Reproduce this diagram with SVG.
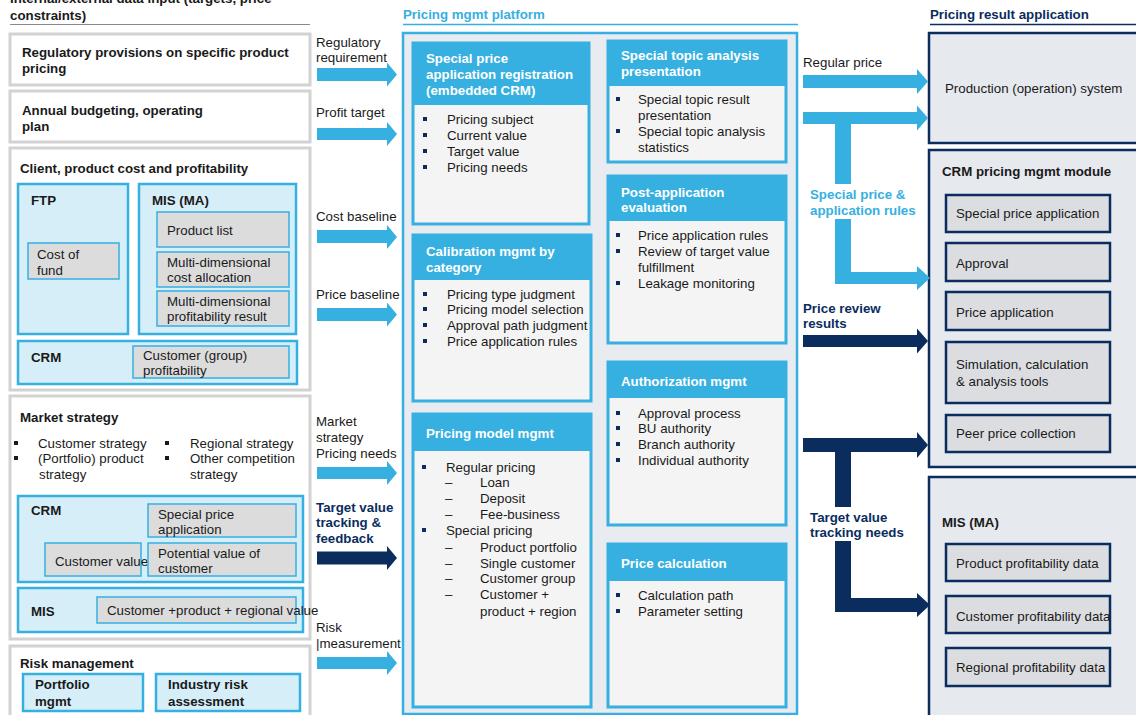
<svg xmlns="http://www.w3.org/2000/svg" width="1136" height="715" viewBox="0 0 1136 715">
<style>
.t{font-family:"Liberation Sans",Arial,sans-serif;font-size:13.3px;fill:#1a1a1a}
.b{font-weight:bold}
.w{fill:#fff}
.lbt{fill:#36b0e0}
.nvt{fill:#0b2d5e}
.gbox{fill:#fff;stroke:#d2d2d2;stroke-width:3}
.bbox{fill:#d6eef8;stroke:#36b0e0;stroke-width:2.5}
.gin{fill:#dcdcdc;stroke:#36b0e0;stroke-width:1.5}
.panel{fill:#f4f4f4;stroke:#36b0e0;stroke-width:3}
.hdr{fill:#36b0e0}
.rbox{fill:#e6e9ee;stroke:#0b2d5e;stroke-width:2.5}
.rin{fill:#dcdde0;stroke:#0b2d5e;stroke-width:2.5}
.bl{fill:#0b2d5e}
.bk{fill:#1a1a1a}
.alb{fill:#36b0e0}
.anv{fill:#0b2d5e}
</style>
<rect width="1136" height="715" fill="#fff"/>

<!-- Section titles -->
<g id="title-input">
<text class="t b" x="10" y="3">Internal/external data input (targets, price</text>
<text class="t b" x="10" y="20">constraints)</text>
<line x1="10" y1="24.5" x2="310" y2="24.5" stroke="#8a8a8a" stroke-width="1"/>
</g>
<g id="title-platform">
<text class="t b lbt" x="403" y="19">Pricing mgmt platform</text>
<line x1="403" y1="24.5" x2="798" y2="24.5" stroke="#36b0e0" stroke-width="1.5"/>
</g>
<g id="title-result">
<text class="t b nvt" x="930" y="19">Pricing result application</text>
<line x1="930" y1="24.5" x2="1136" y2="24.5" stroke="#0b2d5e" stroke-width="1.5"/>
</g>

<!-- Left column -->
<g id="reg-provisions">
<rect class="gbox" x="10" y="34" width="300" height="51"/>
<text class="t b" x="22" y="57">Regulatory provisions on specific product</text>
<text class="t b" x="22" y="73">pricing</text>
</g>
<g id="annual-budget">
<rect class="gbox" x="10" y="91" width="300" height="51"/>
<text class="t b" x="22" y="115">Annual budgeting, operating</text>
<text class="t b" x="22" y="131">plan</text>
</g>
<g id="client-cost">
<rect class="gbox" x="10" y="148" width="300" height="242"/>
<text class="t b" x="20" y="173">Client, product cost and profitability</text>
<g id="ftp">
<rect class="bbox" x="18" y="184" width="110" height="150"/>
<text class="t b" x="31" y="205">FTP</text>
<rect class="gin" x="28" y="243" width="91" height="36"/>
<text class="t" x="37" y="259">Cost of</text>
<text class="t" x="37" y="275">fund</text>
</g>
<g id="mis-ma-left">
<rect class="bbox" x="139" y="184" width="157" height="150"/>
<text class="t b" x="152" y="205">MIS (MA)</text>
<rect class="gin" x="157" y="212" width="132" height="35"/>
<text class="t" x="167" y="235">Product list</text>
<rect class="gin" x="157" y="252" width="132" height="35"/>
<text class="t" x="167" y="267">Multi-dimensional</text>
<text class="t" x="167" y="282">cost allocation</text>
<rect class="gin" x="157" y="291" width="132" height="35"/>
<text class="t" x="167" y="306">Multi-dimensional</text>
<text class="t" x="167" y="321">profitability result</text>
</g>
<g id="crm-cost">
<rect class="bbox" x="18" y="341" width="279" height="43"/>
<text class="t b" x="31" y="362">CRM</text>
<rect class="gin" x="133" y="346" width="156" height="32"/>
<text class="t" x="143" y="360">Customer (group)</text>
<text class="t" x="143" y="375">profitability</text>
</g>
</g>
<g id="market-strategy">
<rect class="gbox" x="10" y="396" width="300" height="243"/>
<text class="t b" x="20" y="422">Market strategy</text>
<rect class="bk" x="14" y="441" width="4" height="4"/>
<rect class="bk" x="14" y="456" width="4" height="4"/>
<text class="t" x="38" y="448">Customer strategy</text>
<text class="t" x="38" y="463">(Portfolio) product</text>
<text class="t" x="39" y="479">strategy</text>
<rect class="bk" x="165" y="441" width="4" height="4"/>
<rect class="bk" x="165" y="456" width="4" height="4"/>
<text class="t" x="190" y="448">Regional strategy</text>
<text class="t" x="190" y="463">Other competition</text>
<text class="t" x="190" y="479">strategy</text>
<g id="crm-market">
<rect class="bbox" x="18" y="496" width="285" height="86"/>
<text class="t b" x="31" y="515">CRM</text>
<rect class="gin" x="148" y="504" width="148" height="33"/>
<text class="t" x="158" y="519">Special price</text>
<text class="t" x="158" y="534">application</text>
<rect class="gin" x="45" y="543" width="96" height="33"/>
<text class="t" x="55" y="566">Customer value</text>
<rect class="gin" x="148" y="543" width="148" height="33"/>
<text class="t" x="158" y="558">Potential value of</text>
<text class="t" x="158" y="573">customer</text>
</g>
<g id="mis-market">
<rect class="bbox" x="18" y="588" width="285" height="44"/>
<text class="t b" x="31" y="616">MIS</text>
<rect class="gin" x="97" y="597" width="199" height="26"/>
<text class="t" x="107" y="615">Customer +product + regional value</text>
</g>
</g>
<g id="risk-mgmt">
<rect class="gbox" x="10" y="646" width="300" height="75"/>
<text class="t b" x="20" y="668">Risk management</text>
<rect class="bbox" x="23" y="674" width="120" height="37"/>
<text class="t b" x="35" y="689">Portfolio</text>
<text class="t b" x="35" y="706">mgmt</text>
<rect class="bbox" x="156" y="674" width="144" height="37"/>
<text class="t b" x="168" y="689">Industry risk</text>
<text class="t b" x="168" y="706">assessment</text>
</g>

<!-- Platform -->
<g id="platform">
<rect x="403" y="33" width="394" height="681" fill="#e8ebf0" stroke="#36b0e0" stroke-width="2.5"/>
</g>
<g id="p-special-reg">
<rect class="panel" x="413" y="43" width="176" height="181"/>
<rect class="hdr" x="413" y="43" width="176" height="62"/>
<text class="t b w" x="426" y="63">Special price</text>
<text class="t b w" x="426" y="79">application registration</text>
<text class="t b w" x="426" y="95">(embedded CRM)</text>
<rect class="bl" x="423" y="117" width="4" height="4"/>
<rect class="bl" x="423" y="133" width="4" height="4"/>
<rect class="bl" x="423" y="149" width="4" height="4"/>
<rect class="bl" x="423" y="165" width="4" height="4"/>
<text class="t" x="447" y="124">Pricing subject</text>
<text class="t" x="447" y="140">Current value</text>
<text class="t" x="447" y="156">Target value</text>
<text class="t" x="447" y="172">Pricing needs</text>
</g>
<g id="p-topic">
<rect class="panel" x="608" y="41" width="178" height="121"/>
<rect class="hdr" x="608" y="41" width="178" height="45"/>
<text class="t b w" x="621" y="60">Special topic analysis</text>
<text class="t b w" x="621" y="76">presentation</text>
<rect class="bl" x="616" y="97" width="4" height="4"/>
<rect class="bl" x="616" y="129" width="4" height="4"/>
<text class="t" x="638" y="104">Special topic result</text>
<text class="t" x="638" y="120">presentation</text>
<text class="t" x="638" y="136">Special topic analysis</text>
<text class="t" x="638" y="152">statistics</text>
</g>
<g id="p-post">
<rect class="panel" x="608" y="176" width="178" height="167"/>
<rect class="hdr" x="608" y="176" width="178" height="45"/>
<text class="t b w" x="621" y="197">Post-application</text>
<text class="t b w" x="621" y="212">evaluation</text>
<rect class="bl" x="616" y="233" width="4" height="4"/>
<rect class="bl" x="616" y="249" width="4" height="4"/>
<rect class="bl" x="616" y="281" width="4" height="4"/>
<text class="t" x="638" y="240">Price application rules</text>
<text class="t" x="638" y="256">Review of target value</text>
<text class="t" x="638" y="272">fulfillment</text>
<text class="t" x="638" y="288">Leakage monitoring</text>
</g>
<g id="p-calibration">
<rect class="panel" x="413" y="235" width="178" height="166"/>
<rect class="hdr" x="413" y="235" width="178" height="45"/>
<text class="t b w" x="426" y="256">Calibration mgmt by</text>
<text class="t b w" x="426" y="272">category</text>
<rect class="bl" x="423" y="292" width="4" height="4"/>
<rect class="bl" x="423" y="307" width="4" height="4"/>
<rect class="bl" x="423" y="323" width="4" height="4"/>
<rect class="bl" x="423" y="339" width="4" height="4"/>
<text class="t" x="447" y="299">Pricing type judgment</text>
<text class="t" x="447" y="314">Pricing model selection</text>
<text class="t" x="447" y="330">Approval path judgment</text>
<text class="t" x="447" y="346">Price application rules</text>
</g>
<g id="p-authorization">
<rect class="panel" x="608" y="362" width="178" height="163"/>
<rect class="hdr" x="608" y="362" width="178" height="36"/>
<text class="t b w" x="621" y="386">Authorization mgmt</text>
<rect class="bl" x="616" y="411" width="4" height="4"/>
<rect class="bl" x="616" y="426" width="4" height="4"/>
<rect class="bl" x="616" y="442" width="4" height="4"/>
<rect class="bl" x="616" y="458" width="4" height="4"/>
<text class="t" x="638" y="418">Approval process</text>
<text class="t" x="638" y="433">BU authority</text>
<text class="t" x="638" y="449">Branch authority</text>
<text class="t" x="638" y="465">Individual authority</text>
</g>
<g id="p-model">
<rect class="panel" x="413" y="414" width="178" height="293"/>
<rect class="hdr" x="413" y="414" width="178" height="37"/>
<text class="t b w" x="426" y="438">Pricing model mgmt</text>
<rect class="bl" x="422" y="465" width="4" height="4"/>
<text class="t" x="446" y="472">Regular pricing</text>
<text class="t" x="445" y="487">–</text>
<text class="t" x="480" y="487">Loan</text>
<text class="t" x="445" y="503">–</text>
<text class="t" x="480" y="503">Deposit</text>
<text class="t" x="445" y="519">–</text>
<text class="t" x="480" y="519">Fee-business</text>
<rect class="bl" x="422" y="528" width="4" height="4"/>
<text class="t" x="446" y="535">Special pricing</text>
<text class="t" x="445" y="552">–</text>
<text class="t" x="480" y="552">Product portfolio</text>
<text class="t" x="445" y="568">–</text>
<text class="t" x="480" y="568">Single customer</text>
<text class="t" x="445" y="583">–</text>
<text class="t" x="480" y="583">Customer group</text>
<text class="t" x="445" y="599">–</text>
<text class="t" x="480" y="599">Customer +</text>
<text class="t" x="480" y="616">product + region</text>
</g>
<g id="p-calculation">
<rect class="panel" x="608" y="544" width="178" height="163"/>
<rect class="hdr" x="608" y="544" width="178" height="37"/>
<text class="t b w" x="621" y="568">Price calculation</text>
<rect class="bl" x="616" y="593" width="4" height="4"/>
<rect class="bl" x="616" y="609" width="4" height="4"/>
<text class="t" x="638" y="600">Calculation path</text>
<text class="t" x="638" y="616">Parameter setting</text>
</g>

<!-- Right column -->
<g id="production">
<rect class="rbox" x="929" y="33" width="215" height="110"/>
<text class="t" x="945" y="93">Production (operation) system</text>
</g>
<g id="crm-module">
<rect class="rbox" x="929" y="150" width="215" height="317"/>
<text class="t b" x="942" y="176">CRM pricing mgmt module</text>
<rect class="rin" x="946" y="195" width="164" height="37"/>
<text class="t" x="956" y="218">Special price application</text>
<rect class="rin" x="946" y="243" width="164" height="38"/>
<text class="t" x="956" y="268">Approval</text>
<rect class="rin" x="946" y="292" width="164" height="38"/>
<text class="t" x="956" y="317">Price application</text>
<rect class="rin" x="946" y="342" width="164" height="61"/>
<text class="t" x="956" y="369">Simulation, calculation</text>
<text class="t" x="956" y="386">&amp; analysis tools</text>
<rect class="rin" x="946" y="415" width="164" height="37"/>
<text class="t" x="956" y="438">Peer price collection</text>
</g>
<g id="mis-ma-right">
<rect class="rbox" x="929" y="477" width="215" height="250"/>
<text class="t b" x="942" y="527">MIS (MA)</text>
<rect class="rin" x="946" y="544" width="164" height="37"/>
<text class="t" x="956" y="568">Product profitability data</text>
<rect class="rin" x="946" y="596" width="164" height="37"/>
<text class="t" x="956" y="621">Customer profitability data</text>
<rect class="rin" x="946" y="648" width="164" height="38"/>
<text class="t" x="956" y="672">Regional profitability data</text>
</g>

<!-- Connectors -->
<g id="connectors">
<path class="alb" d="M317,68 H387 V62.5 L397,74.5 L387,86.5 V81 H317 Z"/>
<path class="alb" d="M317,128 H387 V122 L397,134 L387,146 V140 H317 Z"/>
<path class="alb" d="M317,230 H387 V225 L397,237 L387,249 V243 H317 Z"/>
<path class="alb" d="M317,308 H387 V302.5 L397,314.5 L387,326.5 V321 H317 Z"/>
<path class="alb" d="M317,467 H387 V461 L397,473 L387,485 V479 H317 Z"/>
<path class="anv" d="M317,551.5 H387 V546 L397,558 L387,570 V564.5 H317 Z"/>
<path class="alb" d="M317,657 H387 V651 L397,663 L387,675 V669 H317 Z"/>

<path class="alb" d="M803,75 H917 V69 L928,81.5 L917,94 V88 H803 Z"/>
<path class="alb" d="M803,112 H917 V105.5 L928,118 L917,130.5 V124 H851 V272 H917 V266 L930,278 L917,290 V284 H835 V124 H803 Z"/>
<path class="anv" d="M803,335 H917 V328.5 L928,341 L917,353.5 V347 H803 Z"/>
<path class="anv" d="M803,438 H917 V432 L928,445 L917,458 V452 H851 V598 H917 V593 L930,605 L917,617 V612 H835 V452 H803 Z"/>
</g>

<!-- Connector labels -->
<g id="labels">
<text class="t" x="316" y="47">Regulatory</text>
<text class="t" x="316" y="62">requirement</text>
<text class="t" x="316" y="117">Profit target</text>
<text class="t" x="316" y="221">Cost baseline</text>
<text class="t" x="316" y="299">Price baseline</text>
<text class="t" x="316" y="426">Market</text>
<text class="t" x="316" y="442">strategy</text>
<text class="t" x="316" y="458">Pricing needs</text>
<text class="t b nvt" x="316" y="512">Target value</text>
<text class="t b nvt" x="316" y="527">tracking &amp;</text>
<text class="t b nvt" x="316" y="543">feedback</text>
<text class="t" x="316" y="632">Risk</text>
<text class="t" x="316" y="648">|measurement</text>
<text class="t" x="803" y="67">Regular price</text>
<rect x="806" y="184" width="114" height="35" fill="#fff"/>
<text class="t b lbt" x="810" y="199">Special price &amp;</text>
<text class="t b lbt" x="810" y="215">application rules</text>
<text class="t b nvt" x="803" y="313">Price review</text>
<text class="t b nvt" x="803" y="328">results</text>
<rect x="806" y="507" width="112" height="34" fill="#fff"/>
<text class="t b nvt" x="810" y="522">Target value</text>
<text class="t b nvt" x="810" y="537">tracking needs</text>
</g>
</svg>
